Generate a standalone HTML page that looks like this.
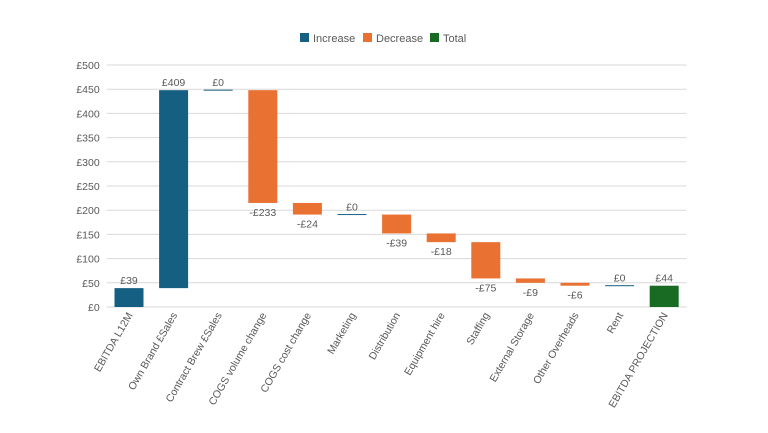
<!DOCTYPE html>
<html><head><meta charset="utf-8"><style>
body{margin:0;background:#fff;font-family:"Liberation Sans",sans-serif;}
svg text{font-family:"Liberation Sans",sans-serif;}
</style></head><body>
<svg id="c" width="768" height="428" xmlns="http://www.w3.org/2000/svg">
<g>
<rect x="300" y="33" width="9" height="9" fill="#156082"/>
<text x="313" y="42" font-size="11" fill="#595959">Increase</text>
<rect x="363" y="33" width="9" height="9" fill="#E97132"/>
<text x="376" y="42" font-size="11" fill="#595959">Decrease</text>
<rect x="430" y="33" width="9" height="9" fill="#196B24"/>
<text x="443" y="42" font-size="11" fill="#595959">Total</text>
</g>
<g id="grid"></g><g id="bars"></g><g id="labels"></g>
</svg>
<script>
const categories=["EBITDA L12M","Own Brand £Sales","Contract Brew £Sales","COGS volume change","COGS cost change","Marketing","Distribution","Equipment hire","Staffing","External Storage","Other Overheads","Rent","EBITDA PROJECTION"];
const values=[39,409,0,-233,-24,0,-39,-18,-75,-9,-6,0,44];
const kinds=["inc","inc","inc","dec","dec","dec","dec","dec","dec","dec","dec","dec","total"];
const ticks=[0,50,100,150,200,250,300,350,400,450,500];
const NS="http://www.w3.org/2000/svg";
const L=106.7,R=686.5,Y0=307,Y1=65;
const y=v=>Y0-(v/500)*(Y0-Y1);
const bw=(R-L)/categories.length;
const xc=i=>L+bw*(i+0.5);
function el(t,a,p){const e=document.createElementNS(NS,t);for(const k in a)e.setAttribute(k,a[k]);document.getElementById(p).appendChild(e);return e;}
ticks.forEach(t=>{
 const g=el("line",{x1:L,x2:R,y1:y(t),y2:y(t),stroke:"#D9D9D9","stroke-width":1},"grid");
 
 
 const tx=el("text",{x:L-7,y:y(t)+4,"font-size":10.5,fill:"#595959","text-anchor":"end"},"grid");
 tx.textContent="£"+t;
 
 
});
const colors={inc:"#156082",dec:"#E97132",total:"#196B24"};
let run=0;
values.forEach((v,i)=>{
 let a,b;
 if(kinds[i]==="total"){a=0;b=v;run=v;}else{a=run;b=run+v;run=b;}
 const top=Math.max(a,b),bot=Math.min(a,b);
 let h=y(bot)-y(top);
 const col=(v===0&&kinds[i]!=="total")?"#156082":colors[kinds[i]];
 const r=el("rect",{x:xc(i)-14.5,y:y(top)-(h<1?0.5:0),width:29,height:Math.max(h,1),fill:col},"bars");
 
 
 const lab=el("text",{"font-size":10.5,fill:"#595959","text-anchor":"middle",x:xc(i)},"labels");
 lab.textContent=(v<0?"-£"+(-v):"£"+v);
 lab.setAttribute("y",v<0?y(bot)+13:y(top)-4);
 
 
 const cx=xc(i)+4,cy=315;
 const c=el("text",{"font-size":10.5,fill:"#595959","text-anchor":"end",transform:`translate(${cx},${cy}) rotate(-60)`},"labels");
 c.textContent=categories[i];
 
 
});
</script>
</body></html>
